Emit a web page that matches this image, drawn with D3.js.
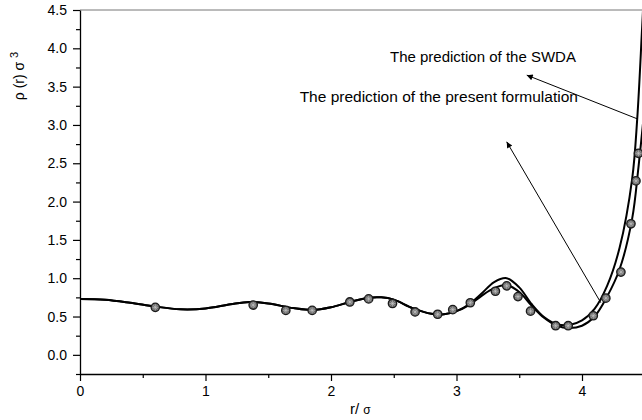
<!DOCTYPE html>
<html>
<head>
<meta charset="utf-8">
<script src="https://cdn.jsdelivr.net/npm/d3@7/dist/d3.min.js"></script>
<style>
  html, body { margin: 0; padding: 0; background: #fff; }
  svg { display: block; font-family: Arial, "Liberation Sans", sans-serif; }
</style>
</head>
<body>
<svg id="chart" width="642" height="420"></svg>
<script>
// Density profile rho(r) sigma^3 versus r/sigma

// Simulation points
const simR   = [0.60, 1.38, 1.64, 1.85, 2.15, 2.30, 2.49, 2.67, 2.85, 2.97, 3.11, 3.31, 3.40, 3.49, 3.59, 3.79, 3.89, 4.09, 4.19, 4.31, 4.39, 4.43, 4.45];
const simRho = [0.62, 0.65, 0.58, 0.58, 0.69, 0.73, 0.67, 0.56, 0.53, 0.59, 0.68, 0.83, 0.90, 0.76, 0.57, 0.38, 0.38, 0.51, 0.74, 1.08, 1.71, 2.27, 2.63];

// Present formulation
const presentR   = [0, 0.2, 0.4, 0.6, 0.8, 1.0, 1.2, 1.35, 1.5, 1.7, 1.85, 2.0, 2.15, 2.3, 2.4, 2.5, 2.65, 2.8, 2.9, 3.0, 3.1, 3.2, 3.3, 3.4, 3.5, 3.6, 3.7, 3.8, 3.9, 4.0, 4.1, 4.2, 4.3, 4.4, 4.45, 4.5];
const presentRho = [0.73, 0.72, 0.68, 0.63, 0.595, 0.605, 0.66, 0.69, 0.67, 0.61, 0.585, 0.62, 0.69, 0.745, 0.75, 0.72, 0.61, 0.535, 0.53, 0.57, 0.65, 0.77, 0.87, 0.91, 0.82, 0.64, 0.48, 0.38, 0.35, 0.38, 0.50, 0.76, 1.12, 1.78, 2.45, 3.25];

// SWDA
const swdaR   = [0, 0.2, 0.4, 0.6, 0.8, 1.0, 1.2, 1.35, 1.5, 1.7, 1.85, 2.0, 2.15, 2.3, 2.4, 2.5, 2.65, 2.8, 2.9, 3.0, 3.1, 3.2, 3.3, 3.4, 3.5, 3.6, 3.7, 3.8, 3.9, 4.0, 4.1, 4.2, 4.3, 4.4, 4.44, 4.48, 4.52];
const swdaRho = [0.73, 0.72, 0.68, 0.63, 0.595, 0.605, 0.66, 0.69, 0.67, 0.61, 0.585, 0.62, 0.69, 0.745, 0.75, 0.72, 0.61, 0.535, 0.53, 0.57, 0.66, 0.80, 0.95, 1.00, 0.88, 0.66, 0.49, 0.40, 0.39, 0.45, 0.60, 0.90, 1.40, 2.30, 3.08, 4.30, 5.60];

// Axis ticks
const xMajor = [0, 1, 2, 3, 4];
const xMinor = [0.5, 1.5, 2.5, 3.5];
const yMajor = [0.0, 0.5, 1.0, 1.5, 2.0, 2.5, 3.0, 3.5, 4.0, 4.5];
const yMinor = [-0.25, 0.25, 0.75, 1.25, 1.75, 2.25, 2.75, 3.25, 3.75, 4.25];

// Annotations: label, text anchor (r, rho), arrow tail (r, rho), arrow head (r, rho)
const notes = [
  { text: "The prediction of the SWDA",                 size: 15,   at: [2.47, 3.82], from: [4.44, 3.08], to: [3.56, 3.65] },
  { text: "The prediction of the present formulation", size: 15.5, at: [1.75, 3.30], from: [4.15, 0.68], to: [3.40, 2.78] }
];

const svg = d3.select("#chart");
const W = 642;

const x = d3.scaleLinear().domain([0, 4.5]).range([80, 644.75]);
const y = d3.scaleLinear().domain([-0.25, 4.5]).range([374, 10]);

const defs = svg.append("defs");
defs.append("clipPath").attr("id", "plotClip")
  .append("rect").attr("x", 80).attr("y", 10).attr("width", W - 80).attr("height", 364);

defs.append("marker")
  .attr("id", "arrowHead")
  .attr("viewBox", "0 0 10 10")
  .attr("refX", 10).attr("refY", 5)
  .attr("markerWidth", 9).attr("markerHeight", 6)
  .attr("markerUnits", "userSpaceOnUse")
  .attr("orient", "auto")
  .append("path").attr("d", "M0,0 L10,5 L0,10 Z").attr("fill", "#000");

// top frame line
svg.append("line")
  .attr("x1", x(0)).attr("x2", W).attr("y1", y(4.5)).attr("y2", y(4.5))
  .attr("stroke", "#777").attr("stroke-width", 1);

// axes
const axisStyle = g => {
  g.select(".domain").attr("stroke", "#000").attr("stroke-width", 1.3);
  g.selectAll(".tick line").attr("stroke", "#000").attr("stroke-width", 1.2);
  g.selectAll(".tick text").attr("fill", "#000").attr("font-size", 14);
};

svg.append("g").attr("transform", `translate(0,${y(-0.25)})`)
  .call(d3.axisBottom(x).tickValues(xMinor).tickSize(4).tickFormat("").tickSizeOuter(0))
  .call(axisStyle).select(".domain").remove();
svg.append("g").attr("transform", `translate(0,${y(-0.25)})`)
  .call(d3.axisBottom(x).tickValues(xMajor).tickSize(7).tickPadding(5).tickFormat(d3.format("d")).tickSizeOuter(0))
  .call(axisStyle);

svg.append("g").attr("transform", `translate(${x(0)},0)`)
  .call(d3.axisLeft(y).tickValues(yMinor).tickSize(4).tickFormat("").tickSizeOuter(0))
  .call(axisStyle).select(".domain").remove();
svg.append("g").attr("transform", `translate(${x(0)},0)`)
  .call(d3.axisLeft(y).tickValues(yMajor).tickSize(7).tickPadding(6).tickFormat(d3.format(".1f")).tickSizeOuter(0))
  .call(axisStyle);

// curves
const plot = svg.append("g").attr("clip-path", "url(#plotClip)");
const line = d3.line().x(d => x(d[0])).y(d => y(d[1])).curve(d3.curveCatmullRom.alpha(0.5));

plot.append("path").datum(d3.zip(swdaR, swdaRho))
  .attr("d", line).attr("fill", "none").attr("stroke", "#000").attr("stroke-width", 2);
plot.append("path").datum(d3.zip(presentR, presentRho))
  .attr("d", line).attr("fill", "none").attr("stroke", "#000").attr("stroke-width", 2);

// simulation symbols
const sym = plot.selectAll("g.sim").data(d3.zip(simR, simRho)).join("g")
  .attr("class", "sim")
  .attr("transform", d => `translate(${x(d[0])},${y(d[1])})`);
sym.append("circle").attr("r", 4.2).attr("fill", "#6e6e6e").attr("stroke", "#1a1a1a").attr("stroke-width", 1.3);
sym.append("path").attr("d", "M-3,0H3M0,-3V3M-2,-2L2,2M-2,2L2,-2")
  .attr("stroke", "#c8c8c8").attr("stroke-width", 0.6);

// annotations
notes.forEach(n => {
  svg.append("line")
    .attr("x1", x(n.from[0])).attr("y1", y(n.from[1]))
    .attr("x2", x(n.to[0])).attr("y2", y(n.to[1]))
    .attr("stroke", "#000").attr("stroke-width", 1)
    .attr("marker-end", "url(#arrowHead)");
  svg.append("text")
    .attr("x", x(n.at[0])).attr("y", y(n.at[1]))
    .attr("font-size", n.size).attr("fill", "#000")
    .text(n.text);
});

// axis titles
const yl = svg.append("text")
  .attr("transform", "translate(24,76) rotate(-90)")
  .attr("text-anchor", "middle").attr("font-size", 14).attr("fill", "#000");
yl.append("tspan").text("\u03C1 (r) \u03C3 ");
yl.append("tspan").attr("dy", -6).attr("font-size", 11).text("3");

const xl = svg.append("text")
  .attr("x", 350).attr("y", 414).attr("font-size", 15).attr("fill", "#000");
xl.append("tspan").text("r/ ");
xl.append("tspan").attr("font-size", 12).text("\u03C3");
</script>
</body>
</html>
